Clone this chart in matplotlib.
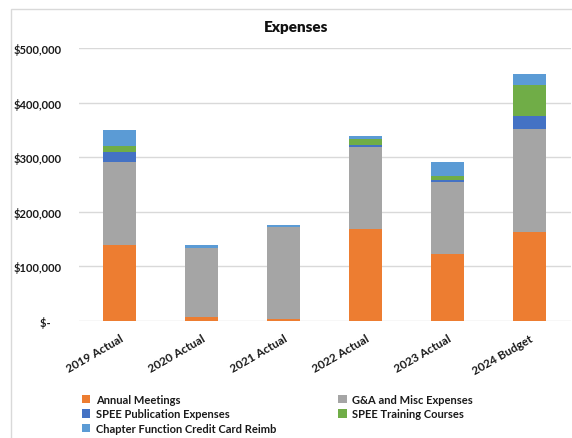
import matplotlib
matplotlib.use("Agg")
import matplotlib.pyplot as plt
from matplotlib.patches import Rectangle
from matplotlib.ticker import FuncFormatter
import numpy as np

categories = ["2019 Actual", "2020 Actual", "2021 Actual", "2022 Actual", "2023 Actual", "2024 Budget"]
annual_meetings = [139000, 8000, 4000, 168000, 123000, 163000]
ga_misc = [152000, 125000, 168000, 151000, 132000, 189000]
publication = [18000, 0, 0, 3000, 3000, 24000]
training = [11000, 0, 0, 11000, 7000, 57000]
chapter_cc = [30000, 6000, 4000, 5000, 26000, 19000]

series_names = ["Annual Meetings", "G&A and Misc Expenses", "SPEE Publication Expenses",
                "SPEE Training Courses", "Chapter Function Credit Card Reimb"]
series_values = [annual_meetings, ga_misc, publication, training, chapter_cc]
colors = ["#ED7D31", "#A5A5A5", "#4472C4", "#70AD47", "#5B9BD5"]

plt.rcParams['font.family'] = ['Lato', 'DejaVu Sans']

fig = plt.figure(figsize=(5.72, 4.39), dpi=100)
ax = fig.add_axes([78.5/572, 1-322/439, 492/572, 273/439])

fig.patches.append(Rectangle((11/572, -0.01), 1.0, 1-10/439+0.01,
                             transform=fig.transFigure, fill=False,
                             edgecolor="#D9D9D9", linewidth=1))

x = np.arange(len(categories))
bottom = np.zeros(len(categories))
handles = []
for name, vals, c in zip(series_names, series_values, colors):
    v = np.array(vals, dtype=float)
    h = ax.bar(x, v, 0.4, bottom=bottom, color=c, label=name, zorder=3, linewidth=0)
    handles.append(h)
    bottom += v

ax.set_xlim(-0.5, len(categories) - 0.5)
ax.set_ylim(0, 500000)
ax.set_yticks(np.arange(0, 500001, 100000))
ax.yaxis.set_major_formatter(FuncFormatter(lambda v, p: "$-    " if v == 0 else f"${v:,.0f}"))
ax.grid(axis="y", color="#D9D9D9", linewidth=1, zorder=0)
for s in ax.spines.values():
    s.set_visible(False)
ax.tick_params(axis="both", length=0, labelsize=8.5, colors="#1a1a1a")
ax.tick_params(axis="y", pad=12, labelsize=8)
ax.set_xticks(x)
ax.set_xticklabels(categories, rotation=30, ha="right", rotation_mode="anchor",
                   fontweight="bold")
for t in ax.get_yticklabels():
    t.set_fontweight("bold")
ax.tick_params(axis="x", pad=8)

fig.text(296/572, 1-28/439, "Expenses", ha="center", va="center",
         fontsize=11, fontweight="heavy", color="#111111")

order = [0, 2, 4, 1, 3]
leg = fig.legend([handles[i] for i in order], [series_names[i] for i in order],
                 ncol=2, loc="upper left", bbox_to_anchor=(82/572, 1-395/439),
                 frameon=False, handlelength=0.75, handleheight=0.75,
                 handletextpad=0.5, columnspacing=5.6, labelspacing=0.3,
                 prop={"size": 8, "weight": "bold"}, borderaxespad=0, borderpad=0)
for t in leg.get_texts():
    t.set_color("#1a1a1a")

fig.savefig("out.png", dpi=100)
